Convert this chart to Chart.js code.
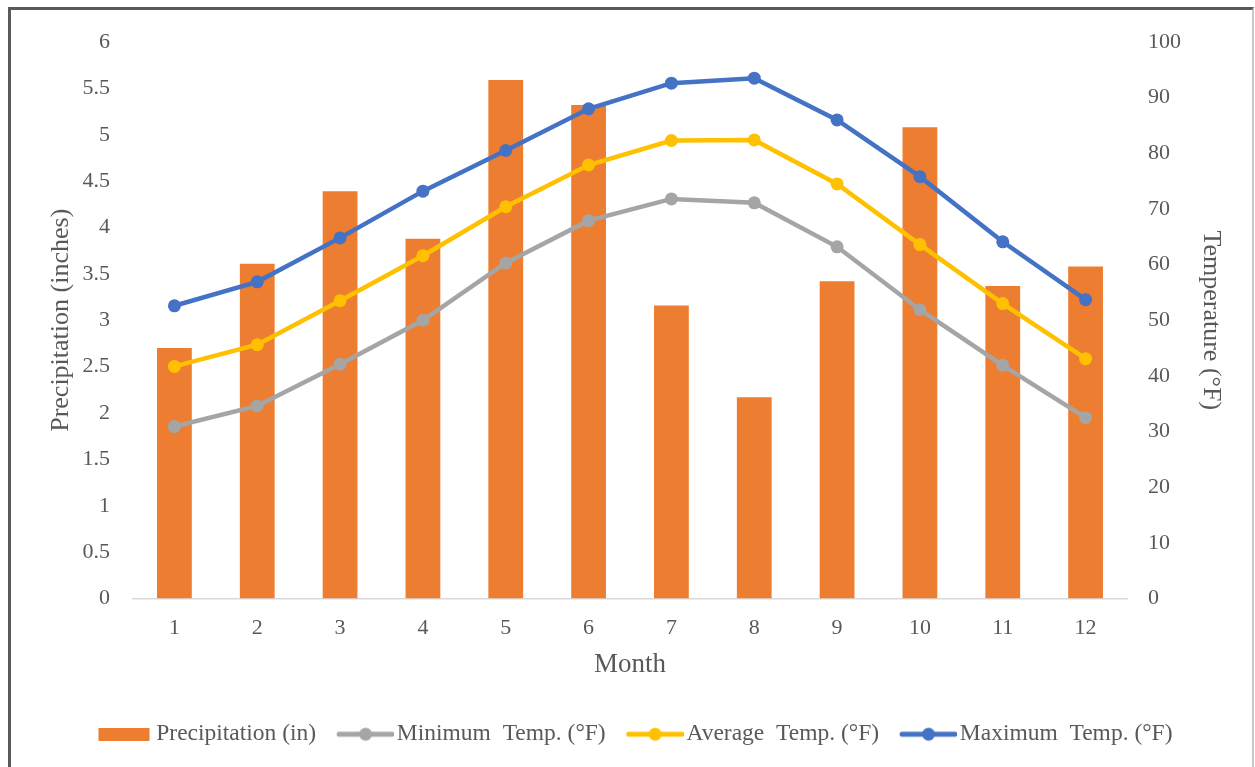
<!DOCTYPE html>
<html>
<head>
<meta charset="utf-8">
<script src="https://cdn.jsdelivr.net/npm/chart.js@4"></script>
<style>
  body { margin: 0; background: #fff; }
  #wrap { position: relative; width: 1255px; height: 767px; }
  #frame {
    position: absolute; left: 8px; top: 7px; width: 1241px; height: 780px;
    border-left: 3px solid #5a5a5a; border-top: 3px solid #5a5a5a; border-right: 2px solid #c8c8c8;
    pointer-events: none;
  }
</style>
</head>
<body>
<div id="wrap">
  <canvas id="chart" width="1255" height="767"></canvas>
  <div id="frame"></div>
</div>
<script>
// datos
const months = ['1', '2', '3', '4', '5', '6', '7', '8', '9', '10', '11', '12'];
const precipitation = [2.70, 3.61, 4.39, 3.88, 5.59, 5.32, 3.16, 2.17, 3.42, 5.08, 3.37, 3.58];
const minTemp = [30.9, 34.6, 42.1, 50.0, 60.3, 67.9, 71.8, 71.1, 63.2, 51.9, 41.9, 32.5];
const avgTemp = [41.7, 45.6, 53.5, 61.6, 70.4, 77.9, 82.3, 82.4, 74.5, 63.6, 53.0, 43.1];
const maxTemp = [52.6, 56.9, 64.8, 73.2, 80.5, 88.0, 92.6, 93.5, 86.0, 75.8, 64.1, 53.7];

const FONT = 'Liberation Serif';
const GREY = '#595959';

// marcadores de la leyenda (lienzo asimétrico para pegar el texto al marcador)
function lineMarker(color) {
    const c = document.createElement('canvas');
    c.width = 64; c.height = 16;
    const g = c.getContext('2d');
    g.strokeStyle = color; g.lineWidth = 5; g.lineCap = 'round';
    g.beginPath(); g.moveTo(9, 8); g.lineTo(62, 8); g.stroke();
    g.fillStyle = color;
    g.beginPath(); g.arc(35.5, 8, 6.5, 0, Math.PI * 2); g.fill();
    return c;
}
function barMarker(color) {
    const c = document.createElement('canvas');
    c.width = 64; c.height = 13;
    const g = c.getContext('2d');
    g.fillStyle = color;
    g.fillRect(9, 0, 51, 13);
    return c;
}

function lineSet(label, data, color) {
    return {
        type: 'line',
        label: label,
        data: data,
        yAxisID: 'yTemp',
        borderColor: color,
        backgroundColor: color,
        borderWidth: 4.5,
        pointRadius: 6.5,
        pointBorderWidth: 0,
        tension: 0,
        order: 1
    };
}

const tickFont = { family: FONT, size: 22 };
const titleFont = { family: FONT, size: 26 };

const ctx = document.getElementById('chart').getContext('2d');
new Chart(ctx, {
    data: {
        labels: months,
        datasets: [
            {
                type: 'bar',
                label: 'Precipitation (in)',
                data: precipitation,
                yAxisID: 'yPrec',
                backgroundColor: '#ED7D31',
                barPercentage: 0.42,
                categoryPercentage: 1,
                order: 5
            },
            lineSet('Minimum  Temp. (°F)', minTemp, '#A5A5A5'),
            lineSet('Average  Temp. (°F)', avgTemp, '#FFC000'),
            lineSet('Maximum  Temp. (°F)', maxTemp, '#4472C4')
        ]
    },
    options: {
        responsive: false,
        animation: false,
        layout: { padding: { left: 30, right: 14, top: 42, bottom: 11 } },
        plugins: {
            tooltip: { enabled: false },
            legend: {
                position: 'bottom',
                labels: {
                    usePointStyle: true,
                    pointStyleWidth: 46,
                    boxHeight: 16,
                    padding: 23,
                    color: GREY,
                    font: { family: FONT, size: 23.5 },
                    generateLabels: function(chart) {
                        const markers = [barMarker('#ED7D31'), lineMarker('#A5A5A5'), lineMarker('#FFC000'), lineMarker('#4472C4')];
                        return chart.data.datasets.map((ds, i) => ({
                            text: ds.label,
                            fillStyle: ds.backgroundColor,
                            strokeStyle: ds.backgroundColor,
                            lineWidth: 0,
                            pointStyle: markers[i],
                            fontColor: GREY,
                            datasetIndex: i,
                            hidden: false
                        }));
                    }
                }
            }
        },
        scales: {
            x: {
                grid: { display: false, drawTicks: false },
                border: { display: true, color: '#D9D9D9', width: 1.5 },
                ticks: { color: GREY, font: tickFont, padding: 17 },
                title: { display: true, text: 'Month', color: GREY, font: { family: FONT, size: 27 }, padding: { top: 6, bottom: 18 } },
                afterFit: (scale) => { scale.height = 101; }
            },
            yPrec: {
                position: 'left',
                min: 0,
                max: 6,
                ticks: { stepSize: 0.5, color: GREY, font: tickFont, padding: 23, callback: (v) => String(v) },
                grid: { display: false, drawTicks: false },
                border: { display: false },
                title: { display: true, text: 'Precipitation (inches)', color: GREY, font: titleFont, padding: { top: 16, bottom: 5 } },
                afterFit: (scale) => { scale.width = 103; }
            },
            yTemp: {
                position: 'right',
                min: 0,
                max: 100,
                ticks: { stepSize: 10, color: GREY, font: tickFont, padding: 21 },
                grid: { display: false, drawTicks: false },
                border: { display: false },
                title: { display: true, text: 'Temperature (°F)', color: GREY, font: titleFont, padding: { top: 15, bottom: 14 } },
                afterFit: (scale) => { scale.width = 114; }
            }
        }
    }
});
</script>
</body>
</html>
